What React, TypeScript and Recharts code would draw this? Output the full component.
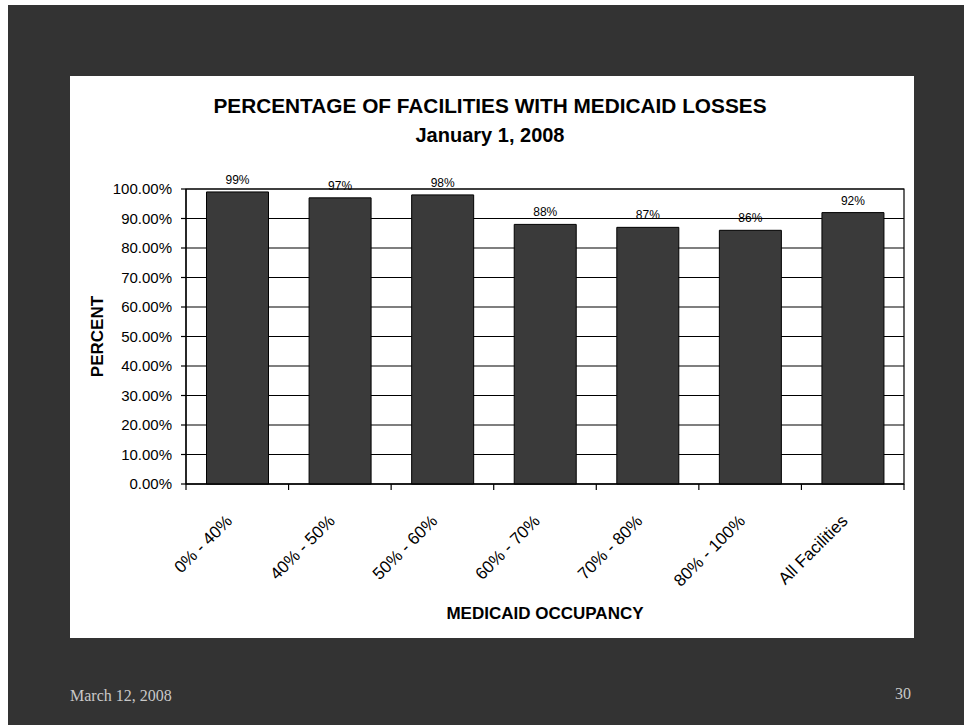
import React from 'react';
import {
  BarChart,
  Bar,
  XAxis,
  YAxis,
  CartesianGrid,
  LabelList,
  Label,
  ReferenceArea,
} from 'recharts';

// Occupancy bands and the share of facilities reporting Medicaid losses (%)
const occupancyBands = ['0% - 40%', '40% - 50%', '50% - 60%', '60% - 70%', '70% - 80%', '80% - 100%', 'All Facilities'];
const lossShares = [99, 97, 98, 88, 87, 86, 92];
const percentTicks = [0, 10, 20, 30, 40, 50, 60, 70, 80, 90, 100];

const chartTitle = 'PERCENTAGE OF FACILITIES WITH MEDICAID LOSSES';
const chartSubtitle = 'January 1, 2008';
const footerDate = 'March 12, 2008';
const pageNumber = '30';

const data = occupancyBands.map((band, i) => ({ band, share: lossShares[i] }));

const SANS = '"Liberation Sans", Arial, Helvetica, sans-serif';
const SERIF = '"Liberation Serif", "Times New Roman", serif';

// Category label rotated 45°, plus the boundary tick marks between categories
const BandTick = (props: any) => {
  const { x, y, payload, index, visibleTicksCount, width } = props;
  const half =
    payload && typeof payload.offset === 'number' && payload.offset > 0
      ? payload.offset
      : width / (2 * (visibleTicksCount || 1));
  const axisY = y - 6;
  const isLast = index === (visibleTicksCount || 0) - 1;
  const ax = x - 4;
  const ay = axisY + 38;
  return (
    <g>
      <line x1={x - half} x2={x - half} y1={axisY} y2={axisY + 6} stroke="#000" strokeWidth={1.2} />
      {isLast && <line x1={x + half} x2={x + half} y1={axisY} y2={axisY + 6} stroke="#000" strokeWidth={1.2} />}
      <text
        x={ax}
        y={ay}
        transform={`rotate(-45, ${ax}, ${ay})`}
        textAnchor="end"
        fontFamily={SANS}
        fontSize={17}
        fill="#000"
      >
        {payload.value}
      </text>
    </g>
  );
};

const PercentAxisTitle = (props: any) => {
  const vb = props.viewBox || { x: 0, y: 0, width: 0, height: 0 };
  const cx = vb.x + 97;
  const cy = vb.y + vb.height / 2;
  return (
    <text
      x={cx}
      y={cy}
      transform={`rotate(-90, ${cx}, ${cy})`}
      textAnchor="middle"
      dominantBaseline="central"
      fontFamily={SANS}
      fontWeight="bold"
      fontSize={17}
      fill="#000"
    >
      PERCENT
    </text>
  );
};

export default function App() {
  return (
    <div style={{ position: 'absolute', left: 0, top: 0, width: 964, height: 725, background: '#fff', overflow: 'hidden' }}>
      {/* dark slide backdrop */}
      <div style={{ position: 'absolute', left: 8, top: 5, width: 956, height: 720, background: '#333333' }} />
      {/* white chart panel */}
      <div style={{ position: 'absolute', left: 70, top: 76, width: 844, height: 562, background: '#fff' }} />

      <div
        style={{
          position: 'absolute',
          left: 140,
          top: 94,
          width: 700,
          textAlign: 'center',
          fontFamily: SANS,
          fontWeight: 'bold',
          fontSize: 20.8,
          lineHeight: '24px',
          color: '#000',
        }}
      >
        {chartTitle}
      </div>
      <div
        style={{
          position: 'absolute',
          left: 140,
          top: 123,
          width: 700,
          textAlign: 'center',
          fontFamily: SANS,
          fontWeight: 'bold',
          fontSize: 20,
          lineHeight: '24px',
          color: '#000',
        }}
      >
        {chartSubtitle}
      </div>

      <div style={{ position: 'absolute', left: 0, top: 0 }}>
        <BarChart
          width={964}
          height={725}
          data={data}
          margin={{ top: 189, right: 60, left: 0, bottom: 106 }}
          barCategoryGap="20%"
        >
          <CartesianGrid horizontal vertical={false} stroke="#000" strokeWidth={1.2} />
          <XAxis
            dataKey="band"
            type="category"
            height={135}
            tickLine={false}
            tickSize={6}
            tickMargin={0}
            axisLine={{ stroke: '#000', strokeWidth: 1.2 }}
            interval={0}
            tick={<BandTick />}
          >
            <Label
              value="MEDICAID OCCUPANCY"
              position="insideBottom"
              offset={0}
              style={{ fontFamily: SANS, fontWeight: 'bold', fontSize: 17, fill: '#000' }}
            />
          </XAxis>
          <YAxis
            type="number"
            domain={[0, 100]}
            ticks={percentTicks}
            width={186}
            tickSize={5}
            tickMargin={9}
            interval={0}
            tickFormatter={(v: number) => `${v.toFixed(2)}%`}
            axisLine={{ stroke: '#000', strokeWidth: 1.2 }}
            tickLine={{ stroke: '#000', strokeWidth: 1.2 }}
            tick={{ fontFamily: SANS, fontSize: 15, fill: '#000' }}
          >
            <Label content={<PercentAxisTitle />} />
          </YAxis>
          <ReferenceArea y1={0} y2={100} fill="none" fillOpacity={0} stroke="#000" strokeWidth={1.2} />
          <Bar dataKey="share" fill="#3a3a3a" stroke="#000" strokeWidth={1} isAnimationActive={false}>
            <LabelList
              dataKey="share"
              position="top"
              offset={8}
              formatter={(v: any) => `${v}%`}
              style={{ fontFamily: SANS, fontSize: 12, fill: '#000' }}
            />
          </Bar>
        </BarChart>
      </div>

      <div
        style={{
          position: 'absolute',
          left: 70,
          top: 687,
          fontFamily: SERIF,
          fontSize: 16,
          lineHeight: '18px',
          color: '#c8c8c8',
        }}
      >
        {footerDate}
      </div>
      <div
        style={{
          position: 'absolute',
          left: 811,
          top: 685,
          width: 100,
          textAlign: 'right',
          fontFamily: SERIF,
          fontSize: 16,
          lineHeight: '18px',
          color: '#c8c8c8',
        }}
      >
        {pageNumber}
      </div>
    </div>
  );
}
